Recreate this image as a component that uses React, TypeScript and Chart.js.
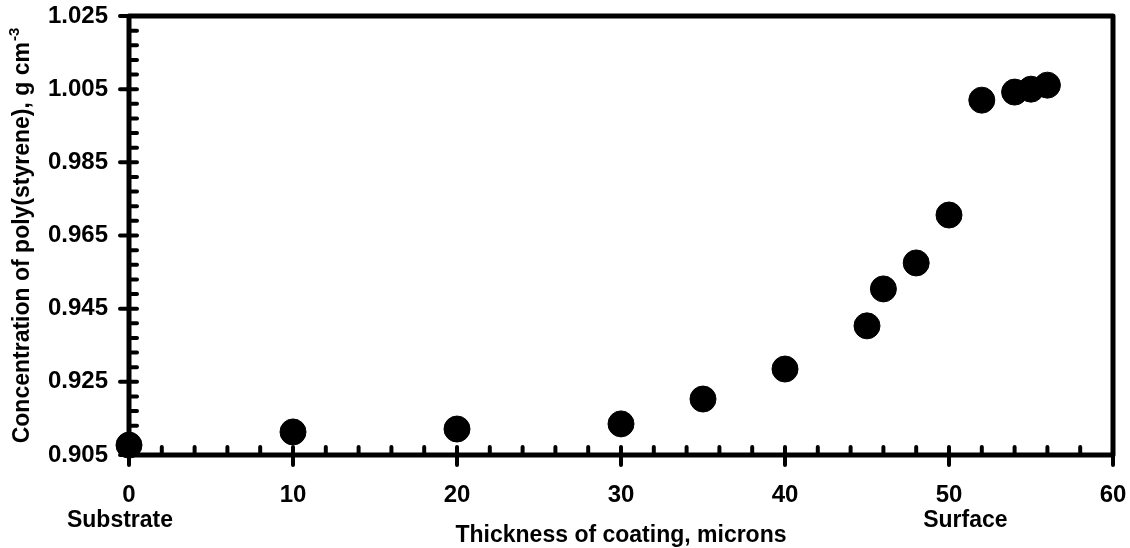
import React, { useEffect, useRef } from "react";
import { Chart, registerables } from "chart.js";

Chart.register(...registerables);

const thickness = [0, 10, 20, 30, 35, 40, 45, 46, 48, 50, 52, 54, 55, 56];
const concentration = [
  0.9077, 0.9113, 0.9121, 0.9135, 0.9203, 0.9285, 0.9403, 0.9504, 0.9575,
  0.9706, 1.002, 1.0042, 1.005, 1.0061,
];
const xTicks = [0, 10, 20, 30, 40, 50, 60];
const yTicks = [0.905, 0.925, 0.945, 0.965, 0.985, 1.005, 1.025];
const xTitle = "Thickness of coating, microns";
const yTitle = "Concentration of poly(styrene), g cm";
const ySup = "-3";
const leftNote = "Substrate";
const rightNote = "Surface";

const FONT = "Arial, 'Liberation Sans', sans-serif";

function minors(majors: number[], parts: number) {
  const out: number[] = [];
  for (let i = 0; i < majors.length - 1; i++) {
    const a = majors[i];
    const b = majors[i + 1];
    for (let k = 1; k < parts; k++) out.push(a + ((b - a) * k) / parts);
  }
  return out;
}

const framePlugin = {
  id: "frame",
  beforeDatasetsDraw(chart: any) {
    const { ctx, chartArea, scales } = chart;
    const xs = scales.x;
    const ys = scales.y;
    const { left, right, top, bottom } = chartArea;
    ctx.save();
    ctx.strokeStyle = "#000";
    ctx.lineCap = "round";
    ctx.lineJoin = "round";
    ctx.lineWidth = 5;
    ctx.beginPath();
    ctx.rect(left, top, right - left, bottom - top);
    ctx.stroke();
    ctx.lineWidth = 4;
    ctx.beginPath();
    for (const v of yTicks) {
      const y = ys.getPixelForValue(v);
      ctx.moveTo(left - 9, y);
      ctx.lineTo(left + 8, y);
    }
    for (const v of minors(yTicks, 5)) {
      const y = ys.getPixelForValue(v);
      ctx.moveTo(left, y);
      ctx.lineTo(left + 8, y);
    }
    for (const v of xTicks) {
      const x = xs.getPixelForValue(v);
      ctx.moveTo(x, bottom - 8);
      ctx.lineTo(x, bottom + 10);
    }
    for (const v of minors(xTicks, 5)) {
      const x = xs.getPixelForValue(v);
      ctx.moveTo(x, bottom - 8);
      ctx.lineTo(x, bottom);
    }
    ctx.stroke();
    ctx.restore();
  },
  afterDraw(chart: any) {
    const { ctx, chartArea, scales } = chart;
    const xs = scales.x;
    ctx.save();
    ctx.fillStyle = "#000";
    ctx.font = `bold 23px ${FONT}`;
    ctx.textAlign = "center";
    ctx.textBaseline = "alphabetic";
    ctx.fillText(leftNote, xs.getPixelForValue(0) - 9, 527);
    ctx.fillText(rightNote, xs.getPixelForValue(51), 527);
    ctx.fillText(xTitle, (chartArea.left + chartArea.right) / 2, 542);
    ctx.translate(29, 236);
    ctx.rotate(-Math.PI / 2);
    ctx.font = `bold 23px ${FONT}`;
    const w = ctx.measureText(yTitle).width;
    ctx.font = `bold 15px ${FONT}`;
    const s = ctx.measureText(ySup).width;
    const start = -(w + s) / 2;
    ctx.textAlign = "left";
    ctx.font = `bold 23px ${FONT}`;
    ctx.fillText(yTitle, start, 0);
    ctx.font = `bold 15px ${FONT}`;
    ctx.fillText(ySup, start + w + 1, -10);
    ctx.restore();
  },
};

export default function App() {
  const ref = useRef<HTMLCanvasElement | null>(null);
  useEffect(() => {
    if (!ref.current) return;
    const chart = new Chart(ref.current, {
      type: "scatter",
      data: {
        datasets: [
          {
            data: thickness.map((x, i) => ({ x, y: concentration[i] })),
            backgroundColor: "#000",
            borderColor: "#000",
            borderWidth: 1,
            pointRadius: 13,
            pointHoverRadius: 13,
            clip: false as any,
          },
        ],
      },
      options: {
        animation: false,
        responsive: false,
        events: [],
        layout: { padding: { top: 16, right: 17, left: 0, bottom: 0 } },
        plugins: { legend: { display: false }, tooltip: { enabled: false } },
        scales: {
          x: {
            type: "linear",
            min: 0,
            max: 60,
            grid: { display: false },
            border: { display: false },
            afterBuildTicks: (s: any) => {
              s.ticks = xTicks.map((v) => ({ value: v }));
            },
            afterFit: (s: any) => {
              s.height = 93;
              s.paddingLeft = 0;
              s.paddingRight = 0;
            },
            ticks: {
              color: "#000",
              padding: 18,
              maxRotation: 0,
              font: { family: FONT, size: 24, weight: "bold" },
              callback: (v: any) => String(v),
            },
          },
          y: {
            type: "linear",
            min: 0.905,
            max: 1.025,
            grid: { display: false },
            border: { display: false },
            afterBuildTicks: (s: any) => {
              s.ticks = yTicks.map((v) => ({ value: v }));
            },
            afterFit: (s: any) => {
              s.width = 129;
              s.paddingTop = 0;
              s.paddingBottom = 0;
            },
            ticks: {
              color: "#000",
              padding: 13,
              font: { family: FONT, size: 24, weight: "bold" },
              callback: (v: any) => Number(v).toFixed(3),
            },
          },
        },
      },
      plugins: [framePlugin],
    });
    return () => chart.destroy();
  }, []);
  return (
    <div style={{ position: "absolute", left: 0, top: 0, width: 1130, height: 548, background: "#fff" }}>
      <canvas ref={ref} width={1130} height={548} style={{ width: 1130, height: 548 }} />
    </div>
  );
}
